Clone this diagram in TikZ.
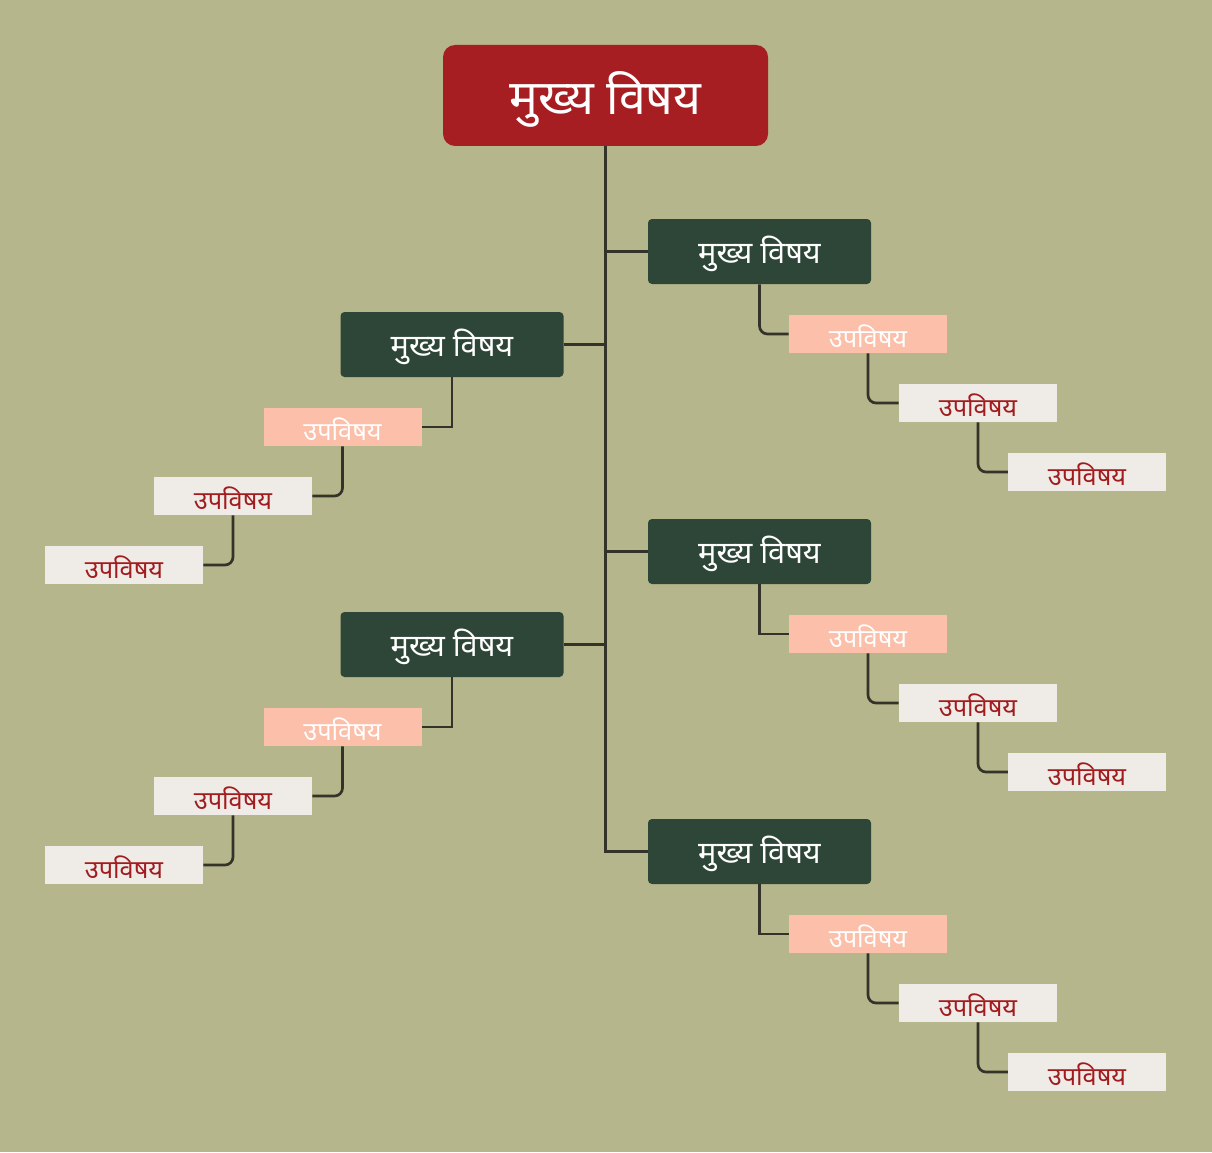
\documentclass[tikz,border=0pt]{standalone}
\usepackage{fontspec}
\newfontfamily\deva[Script=Devanagari]{Noto Sans}
\definecolor{bgc}{HTML}{B5B68B}
\definecolor{rootc}{HTML}{A61E22}
\definecolor{mainc}{HTML}{2E4637}
\definecolor{salc}{HTML}{FBBFAA}
\definecolor{grayc}{HTML}{EFEBE7}
\definecolor{txtred}{HTML}{A21C1F}
\definecolor{linec}{HTML}{33332A}
\newcommand\lowtxt[2]{\raisebox{-#1}[\height][\depth]{#2}}
\newcommand\maintxt{\lowtxt{2pt}{मुख्य विषय}}
\newcommand\subtxt{\lowtxt{1.5pt}{उपविषय}}
\begin{document}
\begin{tikzpicture}[x=0.75pt,y=-0.75pt,
  rootbox/.style={fill=rootc,rounded corners=9pt,minimum width=243.75pt,minimum height=75.75pt,inner sep=0pt,text=white,font=\deva\fontsize{36}{40}\selectfont},
  mainbox/.style={fill=mainc,rounded corners=3pt,minimum width=167.25pt,minimum height=48.75pt,inner sep=0pt,text=white,font=\deva\fontsize{23}{26}\selectfont},
  subone/.style={fill=salc,minimum width=118.5pt,minimum height=28.5pt,inner sep=0pt,text=white,font=\deva\fontsize{19}{21}\selectfont},
  subtwo/.style={fill=grayc,minimum width=118.5pt,minimum height=28.5pt,inner sep=0pt,text=txtred,font=\deva\fontsize{19}{21}\selectfont},
  conn/.style={draw=linec,line width=2pt},
  trunk/.style={draw=linec,line width=2.3pt}]
\fill[bgc] (0,0) rectangle (1212,1152);
\useasboundingbox (0,0) rectangle (1212,1152);

% root
\node[rootbox] (root) at (605.5,95.5) {\lowtxt{3pt}{मुख्य विषय}};

% right main nodes
\node[mainbox] (R1) at (759.5,251.5) {\maintxt};
\node[mainbox] (R2) at (759.5,551.5) {\maintxt};
\node[mainbox] (R3) at (759.5,851.5) {\maintxt};
% left main nodes
\node[mainbox] (L1) at (452,344.5) {\maintxt};
\node[mainbox] (L2) at (452,644.5) {\maintxt};

% right subtopics
\foreach \g/\dy in {1/0,2/300,3/600}{
  \node[subone] (R\g a) at (868,334+\dy) {\subtxt};
  \node[subtwo] (R\g b) at (978,403+\dy) {\subtxt};
  \node[subtwo] (R\g c) at (1087,472+\dy) {\subtxt};
}
% left subtopics
\foreach \g/\dy in {1/0,2/300}{
  \node[subone] (L\g a) at (342.5,427+\dy) {\subtxt};
  \node[subtwo] (L\g b) at (233,496+\dy) {\subtxt};
  \node[subtwo] (L\g c) at (124,565+\dy) {\subtxt};
}

% trunk
\draw[trunk] (root.south) |- (R3.west);
\draw[conn] (R1.west) -- (R1.west -| root.south);
\draw[conn] (R2.west) -- (R2.west -| root.south);
\draw[conn] (L1.east) -- (L1.east -| root.south);
\draw[conn] (L2.east) -- (L2.east -| root.south);

% right connectors
\draw[conn,rounded corners=6pt] (R1.south) |- (R1a.west);
\draw[conn] (R2.south) |- (R2a.west);
\draw[conn] (R3.south) |- (R3a.west);
\foreach \g in {1,2,3}{
  \draw[conn,rounded corners=6pt] (R\g a.south) |- (R\g b.west);
  \draw[conn,rounded corners=6pt] (R\g b.south) |- (R\g c.west);
}
% left connectors
\foreach \g in {1,2}{
  \draw[conn] (L\g.south) |- (L\g a.east);
  \draw[conn,rounded corners=6pt] (L\g a.south) |- (L\g b.east);
  \draw[conn,rounded corners=6pt] (L\g b.south) |- (L\g c.east);
}
\end{tikzpicture}
\end{document}
